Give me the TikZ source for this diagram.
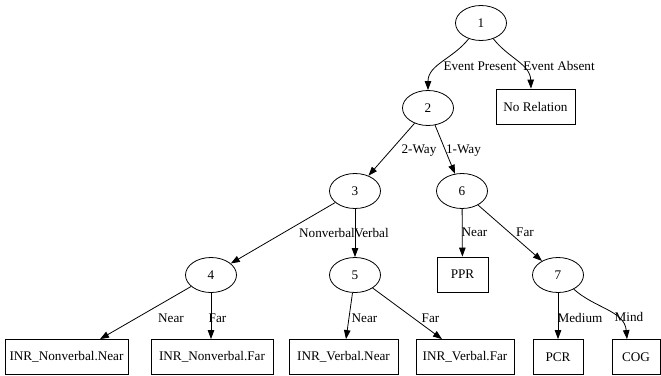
\documentclass[tikz,border=0pt]{standalone}
\usepackage{fontspec}
\setmainfont{Liberation Serif}
\usetikzlibrary{arrows.meta,shapes.geometric}
\begin{document}
\begin{tikzpicture}[x=1pt,y=-1pt,
  every node/.style={font=\fontsize{13.2}{15}\selectfont, inner sep=0pt},
  oval/.style={draw, ellipse, minimum width=51pt, minimum height=35pt, line width=0.8pt},
  leaf/.style={draw, rectangle, minimum height=35pt, line width=0.8pt},
  edge/.style={line width=0.8pt, -{Triangle[length=9pt,width=6.5pt]}},
  lbl/.style={inner sep=0pt}]
\useasboundingbox (0,0) rectangle (661,375);
% nodes
\node[oval] (n1) at (481,23) {1};
\node[leaf, minimum width=79pt] (nr) at (535.5,106.5) {No Relation};
\node[oval] (n2) at (428,108) {2};
\node[oval] (n3) at (355,191) {3};
\node[oval] (n6) at (462,191) {6};
\node[oval] (n4) at (211,275) {4};
\node[oval] (n5) at (355,275) {5};
\node[leaf, minimum width=51pt] (ppr) at (462.5,274.5) {PPR};
\node[oval] (n7) at (558,275) {7};
\node[leaf, minimum width=123pt] (inn) at (66.5,357) {INR\_Nonverbal.Near};
\node[leaf, minimum width=122pt] (inf) at (212,357) {INR\_Nonverbal.Far};
\node[leaf, minimum width=109pt] (ivn) at (343.5,357) {INR\_Verbal.Near};
\node[leaf, minimum width=98pt] (ivf) at (465,357) {INR\_Verbal.Far};
\node[leaf, minimum width=50pt] (pcr) at (558,357) {PCR};
\node[leaf, minimum width=48pt] (cog) at (636,357) {COG};
% edges
\draw[edge] (n1) to[out=-128,in=90] (n2.north) node[lbl] at (480,66) {Event Present};
\draw[edge] (n1) to[out=-52,in=92] (nr.north -| 531,0) node[lbl] at (559,66) {Event Absent};
\draw[edge] (n2) -- (n3) node[lbl] at (419,151) {2-Way};
\draw[edge] (n2) -- (n6) node[lbl] at (463.5,151) {1-Way};
\draw[edge] (n3) -- (n4) node[lbl] at (327,233) {Nonverbal};
\draw[edge] (n3) -- (n5) node[lbl] at (371.5,233) {Verbal};
\draw[edge] (n6) -- (ppr) node[lbl] at (474.5,232) {Near};
\draw[edge] (n6) -- (n7) node[lbl] at (525,232) {Far};
\draw[edge] (n4) -- (inn.north -| 100,0) node[lbl] at (171,318) {Near};
\draw[edge] (n4) -- (inf.north -| 211,0) node[lbl] at (217.5,318) {Far};
\draw[edge] (n5) -- (ivn.north -| 346,0) node[lbl] at (364.5,318) {Near};
\draw[edge] (n5) -- (ivf.north -| 442,0) node[lbl] at (430.5,318) {Far};
\draw[edge] (n7) -- (pcr) node[lbl] at (580,318) {Medium};
\draw[edge] (n7) to[out=-42,in=95] (cog.north -| 627,0) node[lbl] at (629,317) {Mind};
\end{tikzpicture}
\end{document}
